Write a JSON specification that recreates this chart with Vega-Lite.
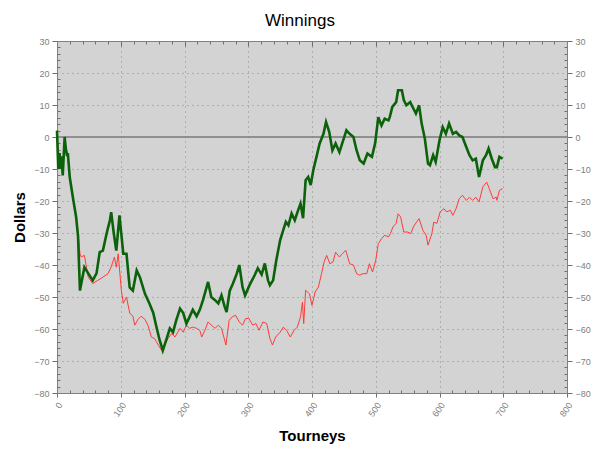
{
  "$schema": "https://vega.github.io/schema/vega-lite/v6.json",
  "width": 510,
  "height": 352,
  "autosize": {"type": "none"},
  "padding": {"left": 57, "top": 41, "right": 33, "bottom": 62},
  "background": "white",
  "title": {"text": "Winnings", "font": "Liberation Sans", "fontSize": 17, "fontWeight": "normal", "color": "black", "anchor": "middle", "frame": "group", "dx": -12, "dy": 21, "offset": 15, "baseline": "alphabetic"},
  "datasets": {
    "green": [
      {"t":0,"d":2},{"t":2,"d":-10},{"t":4,"d":-5},{"t":6,"d":-10},{"t":7,"d":-6},{"t":9,"d":-12},{"t":12,"d":0},{"t":14,"d":-4},{"t":16,"d":-6},{"t":17,"d":-5},{"t":20,"d":-12.6},{"t":25,"d":-19},{"t":30,"d":-25},{"t":33,"d":-31},{"t":36,"d":-48},{"t":43,"d":-40.7},{"t":49,"d":-42.6},{"t":56,"d":-44.8},{"t":62,"d":-42.6},{"t":67,"d":-36},{"t":72,"d":-35.5},{"t":78,"d":-30},{"t":83,"d":-26},{"t":85,"d":-23.5},{"t":89,"d":-30},{"t":93,"d":-35.5},{"t":98,"d":-24.5},{"t":104,"d":-36.5},{"t":109,"d":-36.5},{"t":114,"d":-47},{"t":119,"d":-48},{"t":125,"d":-41.7},{"t":130,"d":-43.8},{"t":138,"d":-49},{"t":145,"d":-52},{"t":151,"d":-55},{"t":156,"d":-59.4},{"t":161,"d":-63.5},{"t":166,"d":-66.7},{"t":172,"d":-63},{"t":177,"d":-59.8},{"t":182,"d":-61},{"t":187,"d":-57.3},{"t":193,"d":-53.6},{"t":198,"d":-55},{"t":203,"d":-58.3},{"t":208,"d":-56.2},{"t":213,"d":-54},{"t":219,"d":-56},{"t":224,"d":-54},{"t":229,"d":-51},{"t":237,"d":-45.3},{"t":242,"d":-50},{"t":248,"d":-51},{"t":253,"d":-52},{"t":258,"d":-49.5},{"t":263,"d":-53},{"t":266,"d":-54.7},{"t":271,"d":-48},{"t":276,"d":-45.8},{"t":282,"d":-42.7},{"t":286,"d":-40},{"t":291,"d":-46.9},{"t":295,"d":-49.5},{"t":302,"d":-46.3},{"t":310,"d":-43.2},{"t":315,"d":-41},{"t":321,"d":-43},{"t":326,"d":-39.5},{"t":331,"d":-44.8},{"t":334,"d":-46.3},{"t":339,"d":-44.8},{"t":344,"d":-38.5},{"t":350,"d":-32.3},{"t":355,"d":-29},{"t":359,"d":-26.5},{"t":363,"d":-27.6},{"t":368,"d":-23.9},{"t":373,"d":-26},{"t":378,"d":-23},{"t":382,"d":-20.8},{"t":386,"d":-25.4},{"t":390,"d":-13.5},{"t":394,"d":-12.5},{"t":398,"d":-15},{"t":402,"d":-10.4},{"t":407,"d":-6.2},{"t":412,"d":-2},{"t":418,"d":1},{"t":422,"d":4.7},{"t":427,"d":1.6},{"t":432,"d":-4.2},{"t":437,"d":-2},{"t":443,"d":-4.7},{"t":448,"d":-1.6},{"t":454,"d":2.1},{"t":459,"d":1},{"t":465,"d":0},{"t":470,"d":-4.2},{"t":475,"d":-7.3},{"t":481,"d":-8.3},{"t":487,"d":-5.2},{"t":494,"d":-6.2},{"t":499,"d":-2},{"t":504,"d":6.2},{"t":509,"d":3.6},{"t":514,"d":5.7},{"t":520,"d":5.2},{"t":522,"d":6.2},{"t":526,"d":9.4},{"t":532,"d":10.9},{"t":535,"d":14.6},{"t":541,"d":14.6},{"t":544,"d":11.5},{"t":548,"d":9.9},{"t":554,"d":10.9},{"t":559,"d":8.9},{"t":563,"d":7.3},{"t":568,"d":9.9},{"t":572,"d":4.2},{"t":577,"d":-0.5},{"t":582,"d":-8.3},{"t":585,"d":-8.8},{"t":590,"d":-5.7},{"t":594,"d":-7.8},{"t":600,"d":-1},{"t":605,"d":3.1},{"t":610,"d":1},{"t":615,"d":4.2},{"t":621,"d":1},{"t":626,"d":1.6},{"t":631,"d":0.5},{"t":636,"d":0},{"t":642,"d":-3.1},{"t":647,"d":-5.7},{"t":652,"d":-7.3},{"t":657,"d":-6.8},{"t":662,"d":-12.5},{"t":668,"d":-7.3},{"t":673,"d":-5.7},{"t":677,"d":-3.6},{"t":682,"d":-6.8},{"t":687,"d":-9.4},{"t":690,"d":-9.4},{"t":694,"d":-6.2},{"t":699,"d":-6.8}
    ],
    "red": [
      {"t":0,"d":2},{"t":2,"d":-4},{"t":5,"d":-8},{"t":9,"d":-10},{"t":12,"d":-1},{"t":16,"d":-5},{"t":20,"d":-12},{"t":25,"d":-19},{"t":30,"d":-25},{"t":33,"d":-30},{"t":36,"d":-36.5},{"t":38,"d":-37.5},{"t":43,"d":-37},{"t":49,"d":-43.8},{"t":56,"d":-45.8},{"t":64,"d":-44.8},{"t":72,"d":-43.8},{"t":80,"d":-42.7},{"t":85,"d":-40.6},{"t":90,"d":-37.5},{"t":93,"d":-40.7},{"t":96,"d":-36.5},{"t":101,"d":-48},{"t":104,"d":-52},{"t":109,"d":-50},{"t":114,"d":-55},{"t":119,"d":-56},{"t":122,"d":-58.8},{"t":127,"d":-57},{"t":132,"d":-56},{"t":138,"d":-57},{"t":143,"d":-59},{"t":148,"d":-62.5},{"t":153,"d":-63},{"t":156,"d":-64},{"t":164,"d":-66.7},{"t":169,"d":-65},{"t":174,"d":-63},{"t":180,"d":-61.4},{"t":185,"d":-62.5},{"t":193,"d":-59.8},{"t":198,"d":-61},{"t":203,"d":-58.8},{"t":208,"d":-59.8},{"t":213,"d":-59.4},{"t":219,"d":-59.8},{"t":224,"d":-60.4},{"t":227,"d":-62.5},{"t":232,"d":-60.4},{"t":237,"d":-57.8},{"t":242,"d":-58.8},{"t":248,"d":-59.8},{"t":253,"d":-58.8},{"t":258,"d":-59.8},{"t":265,"d":-65},{"t":270,"d":-57.3},{"t":275,"d":-56.2},{"t":280,"d":-55.7},{"t":286,"d":-57.8},{"t":291,"d":-58.8},{"t":296,"d":-56.7},{"t":301,"d":-56.7},{"t":307,"d":-58.8},{"t":312,"d":-58.3},{"t":317,"d":-60.4},{"t":323,"d":-57.8},{"t":329,"d":-58.3},{"t":334,"d":-63},{"t":338,"d":-65},{"t":343,"d":-62.5},{"t":350,"d":-61},{"t":355,"d":-59.4},{"t":360,"d":-60.4},{"t":366,"d":-62.5},{"t":372,"d":-60.4},{"t":377,"d":-59.4},{"t":382,"d":-56.2},{"t":385,"d":-51.6},{"t":387,"d":-58.3},{"t":390,"d":-47.9},{"t":396,"d":-49},{"t":400,"d":-52.6},{"t":405,"d":-48.4},{"t":410,"d":-46.9},{"t":415,"d":-42.7},{"t":419,"d":-39},{"t":423,"d":-37},{"t":428,"d":-39.6},{"t":433,"d":-39},{"t":437,"d":-36},{"t":443,"d":-37.5},{"t":448,"d":-36.4},{"t":453,"d":-35.4},{"t":459,"d":-39.6},{"t":465,"d":-40},{"t":470,"d":-42.7},{"t":475,"d":-43.2},{"t":480,"d":-42.7},{"t":486,"d":-42.7},{"t":490,"d":-39.6},{"t":495,"d":-42.2},{"t":500,"d":-38.5},{"t":504,"d":-33.3},{"t":509,"d":-31.8},{"t":514,"d":-30.7},{"t":520,"d":-31.2},{"t":523,"d":-30.2},{"t":527,"d":-28.1},{"t":532,"d":-27},{"t":535,"d":-24},{"t":539,"d":-25},{"t":544,"d":-29.7},{"t":550,"d":-29.7},{"t":555,"d":-30.2},{"t":559,"d":-28.1},{"t":564,"d":-26.6},{"t":568,"d":-25.5},{"t":574,"d":-29.2},{"t":579,"d":-30.7},{"t":582,"d":-33.8},{"t":588,"d":-30.2},{"t":591,"d":-26.6},{"t":596,"d":-27},{"t":601,"d":-23.4},{"t":607,"d":-22.4},{"t":611,"d":-23.4},{"t":617,"d":-22.9},{"t":621,"d":-24.5},{"t":626,"d":-22.4},{"t":631,"d":-19.3},{"t":636,"d":-18.2},{"t":642,"d":-19.8},{"t":647,"d":-18.8},{"t":652,"d":-19.8},{"t":657,"d":-18.8},{"t":662,"d":-20.3},{"t":668,"d":-15.6},{"t":674,"d":-14.1},{"t":678,"d":-16.1},{"t":684,"d":-19.3},{"t":689,"d":-18.8},{"t":690,"d":-19.8},{"t":694,"d":-16.7},{"t":699,"d":-16.1}
    ]
  },
  "layer": [
    {
      "data": {"values": [{"z": 0}]},
      "mark": {"type": "rule", "color": "#7a7a7a", "strokeWidth": 1.5},
      "encoding": {
        "y": {"field": "z", "type": "quantitative", "scale": {"domain": [-80, 30], "nice": false, "zero": false}, "axis": null}
      }
    },
    {
      "data": {"name": "red"},
      "mark": {"type": "line", "color": "#ff3b3b", "strokeWidth": 1},
      "encoding": {
        "x": {"field": "t", "type": "quantitative", "scale": {"domain": [0, 800], "nice": false},
          "axis": {"orient": "top", "labels": false, "title": null, "grid": false,
            "values": [0,20,40,60,80,100,120,140,160,180,200,220,240,260,280,300,320,340,360,380,400,420,440,460,480,500,520,540,560,580,600,620,640,660,680,700,720,740,760,780,800],
            "tickSize": {"condition": {"test": "datum.value % 100 === 0", "value": -5}, "value": -3}}},
        "y": {"field": "d", "type": "quantitative", "scale": {"domain": [-80, 30], "nice": false, "zero": false},
          "axis": {"orient": "right", "title": null, "grid": false,
            "values": [-80,-78,-76,-74,-72,-70,-68,-66,-64,-62,-60,-58,-56,-54,-52,-50,-48,-46,-44,-42,-40,-38,-36,-34,-32,-30,-28,-26,-24,-22,-20,-18,-16,-14,-12,-10,-8,-6,-4,-2,0,2,4,6,8,10,12,14,16,18,20,22,24,26,28,30],
            "labelExpr": "datum.value % 10 === 0 ? datum.label : ''",
            "labelPadding": 3,
            "tickSize": {"condition": {"test": "datum.value % 10 === 0", "value": 5}, "value": -3}}}
      }
    },
    {
      "data": {"name": "green"},
      "mark": {"type": "line", "color": "#0b620b", "strokeWidth": 2.6},
      "encoding": {
        "x": {"field": "t", "type": "quantitative", "scale": {"domain": [0, 800], "nice": false},
          "axis": {"orient": "bottom", "title": "Tourneys",
            "values": [0,20,40,60,80,100,120,140,160,180,200,220,240,260,280,300,320,340,360,380,400,420,440,460,480,500,520,540,560,580,600,620,640,660,680,700,720,740,760,780,800],
            "labelExpr": "datum.value % 100 === 0 ? datum.label : ''",
            "labelAngle": -55, "labelAlign": "right", "labelBaseline": "middle", "labelPadding": 6, "labelOffset": 3,
            "tickSize": {"condition": {"test": "datum.value % 100 === 0", "value": 4}, "value": -3},
            "grid": true,
            "gridOpacity": {"condition": {"test": "datum.value % 100 === 0 && datum.value > 0 && datum.value < 800", "value": 1}, "value": 0},
            "titleX": 255, "titleY": 47, "titleBaseline": "alphabetic"}},
        "y": {"field": "d", "type": "quantitative", "scale": {"domain": [-80, 30], "nice": false, "zero": false},
          "axis": {"orient": "left", "title": "Dollars",
            "values": [-80,-78,-76,-74,-72,-70,-68,-66,-64,-62,-60,-58,-56,-54,-52,-50,-48,-46,-44,-42,-40,-38,-36,-34,-32,-30,-28,-26,-24,-22,-20,-18,-16,-14,-12,-10,-8,-6,-4,-2,0,2,4,6,8,10,12,14,16,18,20,22,24,26,28,30],
            "labelExpr": "datum.value % 10 === 0 ? datum.label : ''",
            "labelPadding": 3,
            "tickSize": {"condition": {"test": "datum.value % 10 === 0", "value": 5}, "value": -3},
            "grid": true,
            "gridOpacity": {"condition": {"test": "datum.value % 10 === 0 && datum.value !== 0 && datum.value > -80 && datum.value < 30", "value": 1}, "value": 0},
            "titleX": -33, "titleY": 176, "titleAngle": -90, "titleBaseline": "alphabetic"}}
      }
    }
  ],
  "resolve": {"axis": {"x": "independent", "y": "independent"}},
  "config": {
    "view": {"fill": "#d3d3d3", "stroke": "#808080"},
    "axis": {
      "labelFont": "Liberation Sans", "labelFontSize": 9, "labelColor": "#808080",
      "labelOverlap": false, "labelFlush": false, "labelBound": false,
      "tickColor": "#6e6e6e", "domainColor": "#808080",
      "gridColor": "#8a8a8a", "gridDash": [1, 4], "gridWidth": 1,
      "titleFont": "Liberation Sans", "titleFontSize": 15, "titleFontWeight": "bold", "titleColor": "black"
    }
  }
}
